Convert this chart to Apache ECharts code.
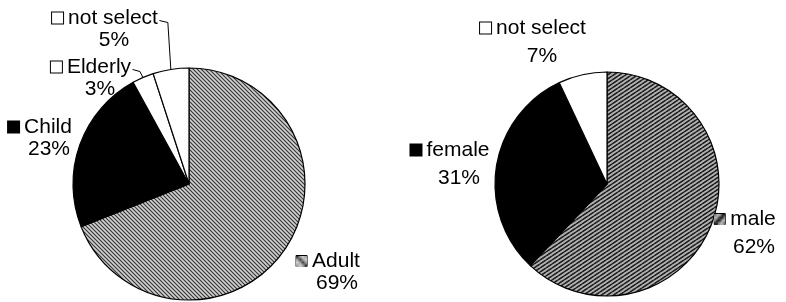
<!DOCTYPE html>
<html><head><meta charset="utf-8">
<script src="https://cdn.jsdelivr.net/npm/echarts@6/dist/echarts.min.js"></script>
<style>html,body{margin:0;padding:0;background:#fff}#c{width:786px;height:302px}</style>
</head><body><div id="c"></div>
<script>
// ---- data ----
const ageCategories = ['Adult', 'Child', 'Elderly', 'not select'];
const ageValues = [69, 23, 3, 5];
const sexCategories = ['male', 'female', 'not select'];
const sexValues = [62, 31, 7];

// ---- label anchor positions (centre of each label block, px) ----
const ageLabelPos = [[328, 272], [40, 138], [91, 78], [105, 29]];
const sexLabelPos = [[745, 233], [450, 164], [533, 42]];

// ---- fill patterns ----
function makePattern(w, h, bg, fg, lw, segs) {
  const c = document.createElement('canvas');
  c.width = w; c.height = h;
  const g = c.getContext('2d');
  g.fillStyle = bg; g.fillRect(0, 0, w, h);
  g.strokeStyle = fg; g.lineWidth = lw;
  segs.forEach(s => { g.beginPath(); g.moveTo(s[0], s[1]); g.lineTo(s[2], s[3]); g.stroke(); });
  return { image: c, repeat: 'repeat' };
}
const hatchA = makePattern(4, 4, '#cfcfcf', '#333333', 1.1,
  [[-1, -1, 5, 5], [-1, 3, 1, 5], [3, -1, 5, 1]]);
const hatchB = makePattern(6, 4, '#b0b0b0', '#222222', 1.3,
  [[-6, 4, 6, -4], [0, 4, 6, 0], [0, 8, 12, 0], [-6, 8, 6, 0]]);

const ageFills = [hatchA, '#000000', '#ffffff', '#ffffff'];
const sexFills = [hatchB, '#000000', '#ffffff'];
const ageLeader = [false, false, true, true];

const FONT = '"Liberation Sans", Arial, sans-serif';

function richFor(fill, lh) {
  return {
    sq: { width: 11, height: 11, backgroundColor: fill, borderColor: '#000', borderWidth: 1 },
    sp: { width: 13, height: 11 },
    g: { width: 5 },
    t: { fontSize: 21, fontFamily: FONT, color: '#000', lineHeight: lh },
    p: { fontSize: 21, fontFamily: FONT, color: '#000', lineHeight: lh }
  };
}

function buildData(cats, vals, fills, lh, leaders) {
  return cats.map((name, i) => ({
    name: name,
    value: vals[i],
    itemStyle: { color: fills[i] },
    label: { rich: richFor(fills[i], lh) },
    labelLine: { show: !!(leaders && leaders[i]) }
  }));
}

function labelFormatter(p) {
  return '{sq|}{g|}{t|' + p.name + '}\n{sp|}{g|}{p|' + p.value + '%}';
}

function makeLayout(posList, withLeaders) {
  return function (params) {
    const p = posList[params.dataIndex];
    const out = { x: p[0], y: p[1], align: 'center', verticalAlign: 'middle' };
    if (withLeaders && withLeaders[params.dataIndex] && params.labelLinePoints) {
      const start = params.labelLinePoints[0];
      const w = params.labelRect.width, h = params.labelRect.height;
      const endX = p[0] + w / 2 + 1;
      const endY = p[1] - h / 2 + 13;
      out.labelLinePoints = [start, [start[0] - 3, endY + 2], [endX, endY]];
    }
    return out;
  };
}

const common = {
  type: 'pie',
  startAngle: 90,
  clockwise: true,
  animation: false,
  silent: true,
  avoidLabelOverlap: false,
  itemStyle: { borderColor: '#000', borderWidth: 1.2 },
  label: { show: true, position: 'outside', formatter: labelFormatter, align: 'center', overflow: 'none', alignTo: 'none' },
  labelLine: { show: false, length: 6, length2: 4, smooth: false, lineStyle: { color: '#000', width: 1 } },
  emphasis: { disabled: true }
};

const chart = echarts.init(document.getElementById('c'), null, { renderer: 'canvas' });
chart.setOption({
  backgroundColor: '#ffffff',
  series: [
    Object.assign({}, common, {
      center: [189, 184],
      radius: 116,
      data: buildData(ageCategories, ageValues, ageFills, 22, ageLeader),
      labelLayout: makeLayout(ageLabelPos, ageLeader)
    }),
    Object.assign({}, common, {
      center: [607, 184],
      radius: 112,
      data: buildData(sexCategories, sexValues, sexFills, 28, null),
      labelLayout: makeLayout(sexLabelPos, null)
    })
  ]
});
</script>
</body></html>
